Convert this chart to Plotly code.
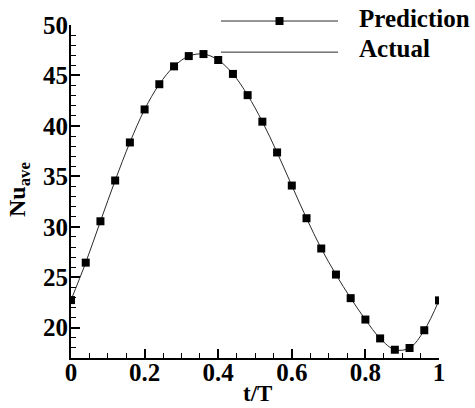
import plotly.graph_objects as go

# Data
t_vals = [0.00, 0.04, 0.08, 0.12, 0.16, 0.20, 0.24, 0.28, 0.32, 0.36, 0.40, 0.44, 0.48,
          0.52, 0.56, 0.60, 0.64, 0.68, 0.72, 0.76, 0.80, 0.84, 0.88, 0.92, 0.96, 1.00]
prediction = [22.74, 26.45, 30.55, 34.59, 38.36, 41.63, 44.13, 45.90, 46.92, 47.12, 46.53, 45.15, 43.05,
              40.42, 37.37, 34.09, 30.85, 27.85, 25.27, 22.93, 20.81, 18.94, 17.82, 17.99, 19.75, 22.71]
actual = [22.74, 26.45, 30.55, 34.59, 38.36, 41.63, 44.13, 45.90, 46.92, 47.12, 46.53, 45.15, 43.05,
          40.42, 37.37, 34.09, 30.85, 27.85, 25.27, 22.93, 20.81, 18.94, 17.82, 17.99, 19.75, 22.71]
legend_names = ["Prediction", "Actual"]
x_ticks = [0, 0.2, 0.4, 0.6, 0.8, 1]
y_ticks = [20, 25, 30, 35, 40, 45, 50]

W, H = 475, 408
ML, MR, MT, MB = 71, 36, 23, 50
PW, PH = W - ML - MR, H - MT - MB

def px(x):
    return (x - ML) / PW

def py(y):
    return (H - MB - y) / PH

FONT = "Liberation Serif, Times New Roman, serif"
LINE_COLOR = "#2a2a2a"

fig = go.Figure()
fig.add_trace(go.Scatter(x=t_vals, y=actual, mode="lines", line=dict(color=LINE_COLOR, width=1, shape="spline"),
                         showlegend=False, name=legend_names[1]))
fig.add_trace(go.Scatter(x=t_vals, y=prediction, mode="markers",
                         marker=dict(symbol="square", size=8, color="black"),
                         showlegend=False, name=legend_names[0]))

axis_common = dict(showline=True, linecolor="black", linewidth=2, ticks="inside", ticklen=9, tickwidth=2,
                   tickcolor="black", showgrid=False, zeroline=False, mirror=False,
                   tickfont=dict(family=FONT, size=25, color="black", weight="bold"))

fig.update_layout(
    width=W, height=H,
    margin=dict(l=ML, r=MR, t=MT, b=MB, pad=0),
    plot_bgcolor="white", paper_bgcolor="white",
    xaxis=dict(range=[0, 1], tickvals=x_ticks, ticktext=[str(v) if v not in (0, 1) else str(int(v)) for v in x_ticks],
               minor=dict(dtick=0.05, ticks="inside", ticklen=5, tickwidth=1, tickcolor="black"),
               ticklabelstandoff=-9,
               **axis_common),
    yaxis=dict(range=[17, 50], tickvals=y_ticks,
               minor=dict(dtick=1, tick0=0, ticks="inside", ticklen=5, tickwidth=1, tickcolor="black"),
               ticklabelstandoff=-4,
               **axis_common),
    showlegend=False,
)

# x-axis title
fig.add_annotation(text="<b>t/T</b>", xref="paper", yref="paper", x=px(257), y=py(394),
                   showarrow=False, font=dict(family=FONT, size=23, color="black"),
                   xanchor="center", yanchor="middle")
# y-axis title
fig.add_annotation(text="<b>Nu<sub>ave</sub></b>", xref="paper", yref="paper", x=px(19), y=py(189),
                   showarrow=False, textangle=-90, font=dict(family=FONT, size=24, color="black"),
                   xanchor="center", yanchor="middle")

# Manual legend
leg_y = [19, 50.3]
leg_text_y = [16.5, 47]
for i, name in enumerate(legend_names):
    fig.add_shape(type="line", xref="paper", yref="paper", x0=px(221), x1=px(338), y0=py(leg_y[i]), y1=py(leg_y[i]),
                  line=dict(color=LINE_COLOR, width=1))
    fig.add_annotation(text="<b>" + name + "</b>", xref="paper", yref="paper", x=px(357), y=py(leg_text_y[i]),
                       showarrow=False, font=dict(family=FONT, size=25, color="black"),
                       xanchor="left", yanchor="middle")
fig.add_shape(type="rect", xref="paper", yref="paper", x0=px(275.5), x1=px(283.5), y0=py(15), y1=py(23),
              fillcolor="black", line=dict(width=0))

fig.write_html("out.html")
